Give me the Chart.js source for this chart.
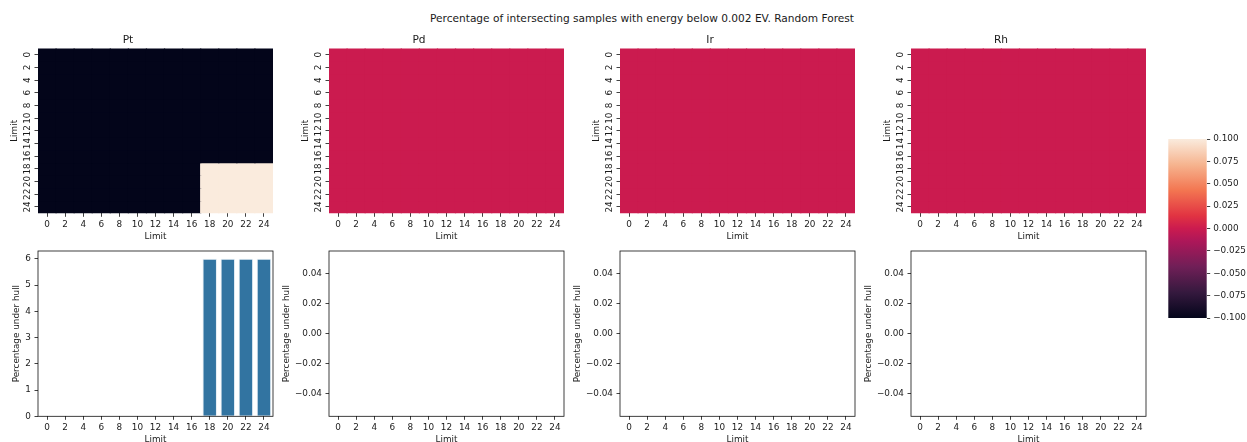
<!DOCTYPE html>
<html><head><meta charset="utf-8">
<script src="https://cdn.jsdelivr.net/npm/chart.js@4.4.1/dist/chart.umd.min.js"></script>
<style>
html,body{margin:0;padding:0;background:#fff;width:1247px;height:442px;overflow:hidden;position:relative;}
canvas{position:absolute;}
#title{position:absolute;left:0;width:1284px;top:11px;text-align:center;font-family:"DejaVu Sans";font-size:10.6px;line-height:14px;color:#1a1a1a;white-space:nowrap;}
</style></head><body>
<div id="title">Percentage of intersecting samples with energy below 0.002 EV. Random Forest</div>
<canvas id="h0" width="300" height="214"></canvas>
<canvas id="h1" width="300" height="214"></canvas>
<canvas id="h2" width="300" height="214"></canvas>
<canvas id="h3" width="300" height="214"></canvas>
<canvas id="b0" width="300" height="205"></canvas>
<canvas id="b1" width="300" height="205"></canvas>
<canvas id="b2" width="300" height="205"></canvas>
<canvas id="b3" width="300" height="205"></canvas>
<canvas id="cb" width="97" height="200"></canvas>
<script>
// ---------------- DATA ----------------
const metals = ['Pt', 'Pd', 'Ir', 'Rh'];
const limits = ['0','2','4','6','8','10','12','14','16','18','20','22','24'];

const ptMatrix = [
  [0,0,0,0,0,0,0,0,0,0,0,0,0],
  [0,0,0,0,0,0,0,0,0,0,0,0,0],
  [0,0,0,0,0,0,0,0,0,0,0,0,0],
  [0,0,0,0,0,0,0,0,0,0,0,0,0],
  [0,0,0,0,0,0,0,0,0,0,0,0,0],
  [0,0,0,0,0,0,0,0,0,0,0,0,0],
  [0,0,0,0,0,0,0,0,0,0,0,0,0],
  [0,0,0,0,0,0,0,0,0,0,0,0,0],
  [0,0,0,0,0,0,0,0,0,0,0,0,0],
  [0,0,0,0,0,0,0,0,0,6,6,6,6],
  [0,0,0,0,0,0,0,0,0,6,6,6,6],
  [0,0,0,0,0,0,0,0,0,6,6,6,6],
  [0,0,0,0,0,0,0,0,0,6,6,6,6]
];
const pdMatrix = [
  [0,0,0,0,0,0,0,0,0,0,0,0,0],[0,0,0,0,0,0,0,0,0,0,0,0,0],[0,0,0,0,0,0,0,0,0,0,0,0,0],
  [0,0,0,0,0,0,0,0,0,0,0,0,0],[0,0,0,0,0,0,0,0,0,0,0,0,0],[0,0,0,0,0,0,0,0,0,0,0,0,0],
  [0,0,0,0,0,0,0,0,0,0,0,0,0],[0,0,0,0,0,0,0,0,0,0,0,0,0],[0,0,0,0,0,0,0,0,0,0,0,0,0],
  [0,0,0,0,0,0,0,0,0,0,0,0,0],[0,0,0,0,0,0,0,0,0,0,0,0,0],[0,0,0,0,0,0,0,0,0,0,0,0,0],
  [0,0,0,0,0,0,0,0,0,0,0,0,0]
];
const irMatrix = [
  [0,0,0,0,0,0,0,0,0,0,0,0,0],[0,0,0,0,0,0,0,0,0,0,0,0,0],[0,0,0,0,0,0,0,0,0,0,0,0,0],
  [0,0,0,0,0,0,0,0,0,0,0,0,0],[0,0,0,0,0,0,0,0,0,0,0,0,0],[0,0,0,0,0,0,0,0,0,0,0,0,0],
  [0,0,0,0,0,0,0,0,0,0,0,0,0],[0,0,0,0,0,0,0,0,0,0,0,0,0],[0,0,0,0,0,0,0,0,0,0,0,0,0],
  [0,0,0,0,0,0,0,0,0,0,0,0,0],[0,0,0,0,0,0,0,0,0,0,0,0,0],[0,0,0,0,0,0,0,0,0,0,0,0,0],
  [0,0,0,0,0,0,0,0,0,0,0,0,0]
];
const rhMatrix = [
  [0,0,0,0,0,0,0,0,0,0,0,0,0],[0,0,0,0,0,0,0,0,0,0,0,0,0],[0,0,0,0,0,0,0,0,0,0,0,0,0],
  [0,0,0,0,0,0,0,0,0,0,0,0,0],[0,0,0,0,0,0,0,0,0,0,0,0,0],[0,0,0,0,0,0,0,0,0,0,0,0,0],
  [0,0,0,0,0,0,0,0,0,0,0,0,0],[0,0,0,0,0,0,0,0,0,0,0,0,0],[0,0,0,0,0,0,0,0,0,0,0,0,0],
  [0,0,0,0,0,0,0,0,0,0,0,0,0],[0,0,0,0,0,0,0,0,0,0,0,0,0],[0,0,0,0,0,0,0,0,0,0,0,0,0],
  [0,0,0,0,0,0,0,0,0,0,0,0,0]
];
const colorMins = [0, -0.1, -0.1, -0.1];
const colorMaxs = [6, 0.1, 0.1, 0.1];

const ptPercent = [0,0,0,0,0,0,0,0,0,6,6,6,6];
const pdPercent = [0,0,0,0,0,0,0,0,0,0,0,0,0];
const irPercent = [0,0,0,0,0,0,0,0,0,0,0,0,0];
const rhPercent = [0,0,0,0,0,0,0,0,0,0,0,0,0];

const ptBarTicks = [0,1,2,3,4,5,6];
const emptyBarTicks = [-0.04,-0.02,0,0.02,0.04];
const colorbarTicks = [-0.1,-0.075,-0.05,-0.025,0,0.025,0.05,0.075,0.1];

// ---------------- STYLE / LAYOUT ----------------
const FONT = 'DejaVu Sans';
const TXT = '#1a1a1a';
const tickFont = {family: FONT, size: 8.85, weight: 'normal'};
const titleFont = {family: FONT, size: 10.6, weight: 'normal'};
const axLefts = [38.4, 329.2, 620.0, 910.8];
const M = 55;
Chart.defaults.font.family = FONT;

const rocketStops = [
  [0.000, [3,5,26]], [0.143, [53,25,62]], [0.286, [112,31,87]], [0.429, [173,23,89]],
  [0.500, [203,27,79]], [0.571, [225,51,66]], [0.714, [243,118,81]], [0.857, [246,180,143]],
  [1.000, [250,235,221]]
];
function rocket(t) {
  t = Math.max(0, Math.min(1, t));
  for (let i = 1; i < rocketStops.length; i++) {
    const [t1, c1] = rocketStops[i];
    const [t0, c0] = rocketStops[i-1];
    if (t <= t1) {
      const f = (t - t0) / (t1 - t0);
      const c = c0.map((v, k) => Math.round(v + (c1[k] - v) * f));
      return `rgb(${c[0]},${c[1]},${c[2]})`;
    }
  }
  return 'rgb(250,235,221)';
}

const tickGrid = {display: true, drawOnChartArea: false, drawTicks: true, tickLength: 3.5, tickWidth: 0.8, tickColor: '#111', offset: false};

const spines = {
  id: 'spines',
  afterDraw(chart) {
    const {ctx, chartArea: a} = chart;
    ctx.save();
    ctx.strokeStyle = '#111';
    ctx.lineWidth = 0.8;
    ctx.strokeRect(a.left, a.top, a.right - a.left, a.bottom - a.top);
    ctx.restore();
  }
};

function place(id, left, top) {
  const c = document.getElementById(id);
  c.style.left = left + 'px';
  c.style.top = top + 'px';
  return c;
}

function heatmap(k, matrix) {
  const vmin = colorMins[k], vmax = colorMaxs[k];
  const canvas = place('h' + k, axLefts[k] - M, 28);
  const datasets = matrix.map((row, r) => ({
    data: row.map((v, c) => ({x: limits[c], y: [r, r + 1], v: v})),
    backgroundColor: ctx => rocket((ctx.raw.v - vmin) / (vmax - vmin)),
    borderWidth: 0,
    inflateAmount: 0.6,
    barPercentage: 1,
    categoryPercentage: 1,
    grouped: false
  }));
  new Chart(canvas, {
    type: 'bar',
    data: {labels: limits, datasets},
    options: {
      responsive: false, animation: false, devicePixelRatio: 1,
      layout: {padding: {left: 0, right: 10, top: 0, bottom: 0}},
      plugins: {
        legend: {display: false}, tooltip: {enabled: false},
        title: {display: true, text: metals[k], font: titleFont, color: TXT, padding: {top: 5.4, bottom: 2.3}}
      },
      scales: {
        x: {
          type: 'category', offset: true, grid: tickGrid, border: {display: false},
          ticks: {autoSkip: false, maxRotation: 0, padding: 2.2, font: tickFont, color: TXT},
          title: {display: true, text: 'Limit', font: tickFont, color: TXT, padding: 0},
          afterFit: s => { s.height = 28.7; }
        },
        y: {
          type: 'linear', min: 0, max: matrix.length, reverse: true,
          afterBuildTicks: s => { s.ticks = limits.map((_, i) => ({value: i + 0.5})); },
          grid: tickGrid, border: {display: false},
          ticks: {autoSkip: false, minRotation: 90, maxRotation: 90, crossAlign: 'center', padding: 1.2,
                  font: tickFont, color: TXT, callback: (v, i) => limits[i]},
          title: {display: true, text: 'Limit', font: tickFont, color: TXT, padding: {top: 25.9, bottom: 0}},
          afterFit: s => { s.width = M; }
        }
      }
    }
  });
}

function fmtMinus(v, d) { return (v < 0 ? '\u2212' : '') + Math.abs(v).toFixed(d); }

function barChart(k, values, yMin, yMax, yTicks, fmt, titlePad) {
  const canvas = place('b' + k, axLefts[k] - M, 240);
  new Chart(canvas, {
    type: 'bar',
    data: {labels: limits, datasets: [{
      data: values,
      backgroundColor: '#3274a1',
      borderColor: 'rgba(225,235,243,0.9)',
      borderWidth: ctx => (ctx.raw > 0 ? 1 : 0),
      barPercentage: 0.8, categoryPercentage: 1
    }]},
    options: {
      responsive: false, animation: false, devicePixelRatio: 1,
      layout: {padding: {left: 0, right: 10, top: 11, bottom: 0}},
      plugins: {legend: {display: false}, tooltip: {enabled: false}},
      scales: {
        x: {
          type: 'category', offset: true, grid: tickGrid, border: {display: false},
          ticks: {autoSkip: false, maxRotation: 0, padding: 2.2, font: tickFont, color: TXT},
          title: {display: true, text: 'Limit', font: tickFont, color: TXT, padding: 0},
          afterFit: s => { s.height = 28.7; }
        },
        y: {
          type: 'linear', min: yMin, max: yMax,
          afterBuildTicks: s => { s.ticks = yTicks.map(v => ({value: v})); },
          grid: tickGrid, border: {display: false},
          ticks: {autoSkip: false, padding: 3.5, font: tickFont, color: TXT, callback: v => fmt(v)},
          title: {display: true, text: 'Percentage under hull', font: tickFont, color: TXT, padding: {top: titlePad, bottom: 0}},
          afterFit: s => { s.width = M; }
        }
      }
    },
    plugins: [spines]
  });
}

function colorbar() {
  const canvas = place('cb', 1150, 130);
  new Chart(canvas, {
    type: 'bar',
    data: {labels: [''], datasets: [{
      data: [[colorbarTicks[0], colorbarTicks[colorbarTicks.length - 1]]],
      backgroundColor: ctx => {
        const a = ctx.chart.chartArea;
        if (!a) return '#cb1b4f';
        const g = ctx.chart.ctx.createLinearGradient(0, a.bottom, 0, a.top);
        rocketStops.forEach(([t, c]) => g.addColorStop(t, `rgb(${c[0]},${c[1]},${c[2]})`));
        return g;
      },
      borderWidth: 0, barPercentage: 1, categoryPercentage: 1
    }]},
    options: {
      responsive: false, animation: false, devicePixelRatio: 1,
      layout: {padding: {left: 18.3, right: 0, top: 9, bottom: 12}},
      plugins: {legend: {display: false}, tooltip: {enabled: false}},
      scales: {
        x: {display: false},
        y: {
          position: 'right', min: -0.1, max: 0.1,
          afterBuildTicks: s => { s.ticks = colorbarTicks.map(v => ({value: v})); },
          grid: tickGrid, border: {display: false},
          ticks: {autoSkip: false, padding: 3, font: tickFont, color: TXT, callback: v => fmtMinus(v, 3)},
          afterFit: s => { s.width = 40.3; }
        }
      }
    }
  });
}

heatmap(0, ptMatrix);
heatmap(1, pdMatrix);
heatmap(2, irMatrix);
heatmap(3, rhMatrix);
barChart(0, ptPercent, 0, 6.3, ptBarTicks, v => String(v), 28.2);
barChart(1, pdPercent, -0.055, 0.055, emptyBarTicks, v => fmtMinus(v, 2), 7.4);
barChart(2, irPercent, -0.055, 0.055, emptyBarTicks, v => fmtMinus(v, 2), 7.4);
barChart(3, rhPercent, -0.055, 0.055, emptyBarTicks, v => fmtMinus(v, 2), 7.4);
colorbar();
</script>
</body></html>
